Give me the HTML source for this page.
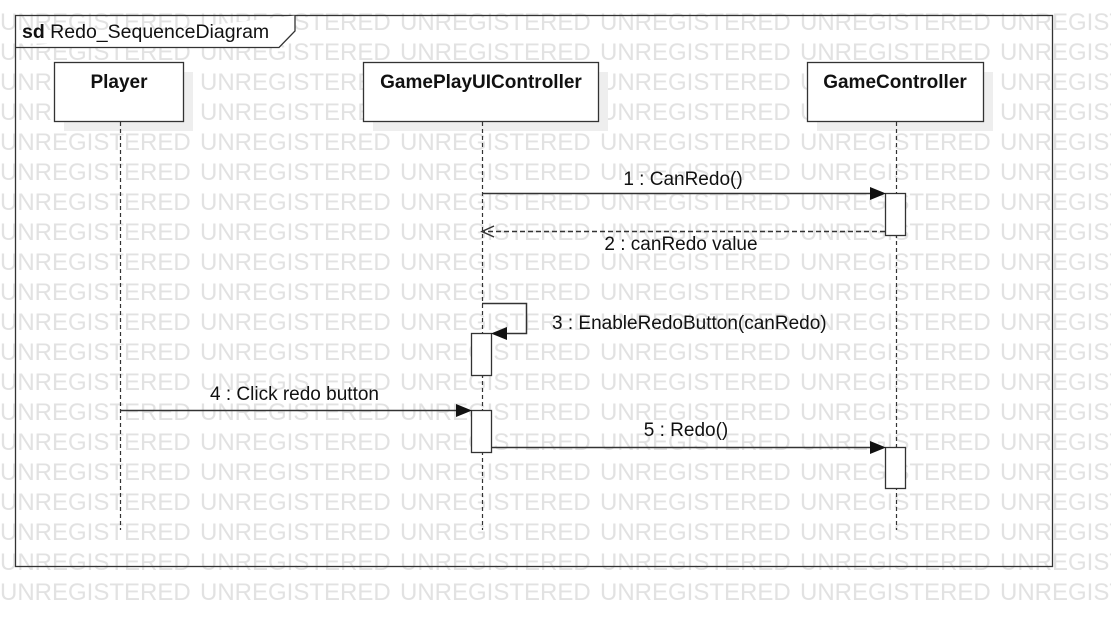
<!DOCTYPE html>
<html><head><meta charset="utf-8"><style>
body{margin:0;background:#fff;width:1111px;height:627px;overflow:hidden;position:relative;font-family:"Liberation Sans",sans-serif}
.wm{position:absolute;left:0;width:1111px;overflow:hidden;white-space:nowrap;font-size:24px;color:#e2e2e2;line-height:30px}
svg{position:absolute;left:0;top:0}
</style></head><body>
<div id="w"></div>
<script>
var h='';for(var i=0;i<20;i++){var s='';for(var j=0;j<6;j++)s+='<span style="display:inline-block;width:200px">UNREGISTERED</span>';h+='<div class="wm" style="top:'+(8+i*30)+'px">'+s+'</div>';}
document.getElementById('w').innerHTML=h;
</script>
<svg width="1111" height="627" font-family="Liberation Sans, sans-serif">
<rect x="15.5" y="15.5" width="1037" height="551" fill="none" stroke="#333" stroke-width="1.3"/>
<path d="M15.5 47.5 H279 L295 31 V15.5" fill="#fff" stroke="#333" stroke-width="1.3"/>
<text x="22" y="38" font-size="19.5" fill="#111"><tspan font-weight="bold">sd</tspan> Redo_SequenceDiagram</text>
<g fill="#eee"><rect x="64" y="72" width="129" height="59"/><rect x="373" y="72" width="235" height="59"/><rect x="817" y="72" width="176" height="59"/></g>
<g fill="#fff" stroke="#333" stroke-width="1.3">
<rect x="54.5" y="62.5" width="129" height="59"/><rect x="363.5" y="62.5" width="235" height="59"/><rect x="807.5" y="62.5" width="176" height="59"/></g>
<g font-size="19" font-weight="bold" text-anchor="middle" fill="#111">
<text x="119" y="88">Player</text><text x="481" y="88">GamePlayUIController</text><text x="895" y="88">GameController</text></g>
<g stroke="#333" stroke-width="1.2" stroke-dasharray="4,3">
<line x1="120.5" y1="122" x2="120.5" y2="530"/><line x1="482.5" y1="122" x2="482.5" y2="530"/><line x1="896.5" y1="122" x2="896.5" y2="530"/></g>
<g fill="#fff" stroke="#333" stroke-width="1.3">
<rect x="885.5" y="193.5" width="20" height="42"/><rect x="471.5" y="333.5" width="20" height="42"/><rect x="471.5" y="410.5" width="20" height="42"/><rect x="885.5" y="447.5" width="20" height="41"/></g>
<g stroke="#333" stroke-width="1.5" fill="none">
<line x1="482" y1="193.5" x2="870" y2="193.5"/>
<line x1="885" y1="231.5" x2="484" y2="231.5" stroke-dasharray="5,3"/>
<polyline points="494,226 482,231.5 494,237"/>
<polyline points="482,303.5 526.5,303.5 526.5,333.5 505,333.5"/>
<line x1="120" y1="410.5" x2="456" y2="410.5"/>
<line x1="491" y1="447.5" x2="870" y2="447.5"/>
</g>
<g fill="#111">
<polygon points="870,187 886,193.5 870,200"/>
<polygon points="491,333.5 507,327 507,340"/>
<polygon points="456,404 472,410.5 456,417"/>
<polygon points="870,441 886,447.5 870,454"/>
</g>
<g font-size="19" fill="#111">
<text x="683" y="185" text-anchor="middle">1 : CanRedo()</text>
<text x="681" y="250" text-anchor="middle">2 : canRedo value</text>
<text x="552" y="329">3 : EnableRedoButton(canRedo)</text>
<text x="210" y="400">4 : Click redo button</text>
<text x="686" y="436" text-anchor="middle">5 : Redo()</text>
</g>
</svg>
</body></html>
